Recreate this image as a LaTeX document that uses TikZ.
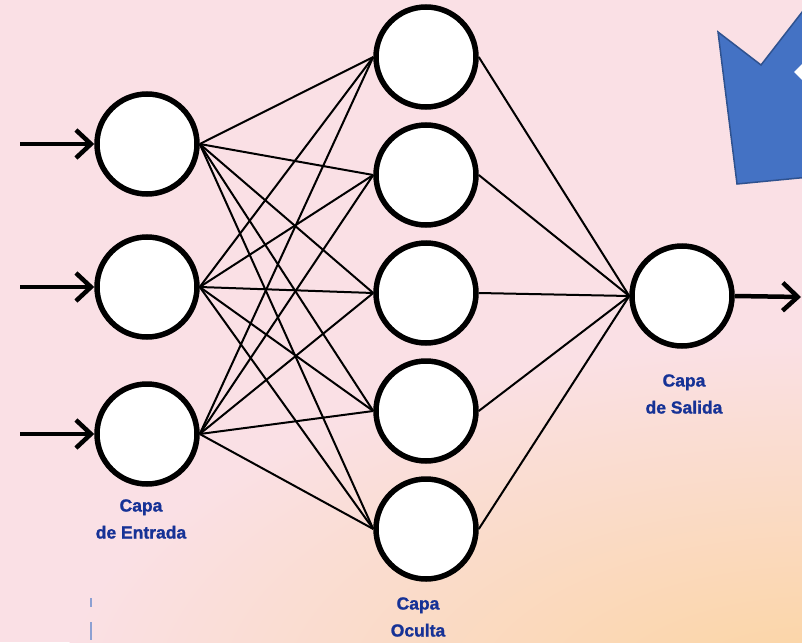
\documentclass[tikz,border=0pt]{standalone}
\usepackage{fontspec}
\setmainfont{Liberation Sans}[BoldFeatures={FakeBold=1.2}]
\usetikzlibrary{arrows.meta}
\definecolor{bgpink}{RGB}{250,224,229}
\definecolor{bgpeach}{RGB}{251,212,158}
\definecolor{labelblue}{RGB}{22,50,150}
\definecolor{callblue}{RGB}{68,114,196}
\definecolor{calledge}{RGB}{47,82,143}
\definecolor{markblue}{RGB}{140,160,210}
\begin{document}
\begin{tikzpicture}[x=1pt,y=-1pt,
  neuron/.style={circle,draw=black,fill=white,line width=5.5pt,minimum size=100pt,inner sep=0pt},
  link/.style={line width=2pt,black},
  feed/.style={line width=4.5pt,-{Straight Barb[length=15pt,width=28pt]}},
  layerlabel/.style={text=labelblue,font=\bfseries\fontsize{17.5}{27}\selectfont,align=center}]
\useasboundingbox (0,0) rectangle (802,642);
\clip (0,0) rectangle (802,642);
% background wash
\fill[bgpink] (0,0) rectangle (802,642);
\shade[inner color=bgpeach, outer color=bgpink] (820,700) ellipse [x radius=760, y radius=360];

% block arrow in the corner
\filldraw[fill=callblue, draw=calledge, line width=1.5pt, line join=miter]
  (718,32) -- (761,65) -- (820,-11) -- (820,176) -- (737,184) -- cycle;
\fill[white] (794,72) -- (804,62) -- (804,82) -- cycle;

% input layer
\node[neuron] (in1) at (147,144) {};
\node[neuron] (in2) at (147,287) {};
\node[neuron] (in3) at (147,434) {};
% hidden layer
\node[neuron] (h1) at (426,57) {};
\node[neuron] (h2) at (426,175) {};
\node[neuron] (h3) at (426,293) {};
\node[neuron] (h4) at (426,411) {};
\node[neuron] (h5) at (426,529) {};
% output layer
\node[neuron] (out) at (682,296) {};

% weights
\foreach \i in {1,2,3}
  \foreach \j in {1,...,5}
    \draw[link] (in\i.east) -- (h\j.west);
\foreach \j in {1,...,5}
  \draw[link] (h\j.east) -- (out.west);

% inputs and output
\coordinate (src1) at (20,144);
\coordinate (src2) at (20,287);
\coordinate (src3) at (20,434);
\coordinate (sink) at (801,297);
\draw[feed] (src1) -- (in1.west);
\draw[feed] (src2) -- (in2.west);
\draw[feed] (src3) -- (in3.west);
\draw[feed] (out.east) -- (sink);

% layer names
\node[layerlabel] (lblin) at (141,519) {Capa\\de Entrada};
\node[layerlabel] (lblhid) at (418,617) {Capa\\Oculta};
\node[layerlabel] (lblout) at (684,394) {Capa\\de Salida};

% small marks
\draw[markblue, line width=1.5pt] (91,598) -- (91,607);
\draw[markblue, line width=1.5pt] (91,622) -- (91,640);
\end{tikzpicture}
\end{document}
